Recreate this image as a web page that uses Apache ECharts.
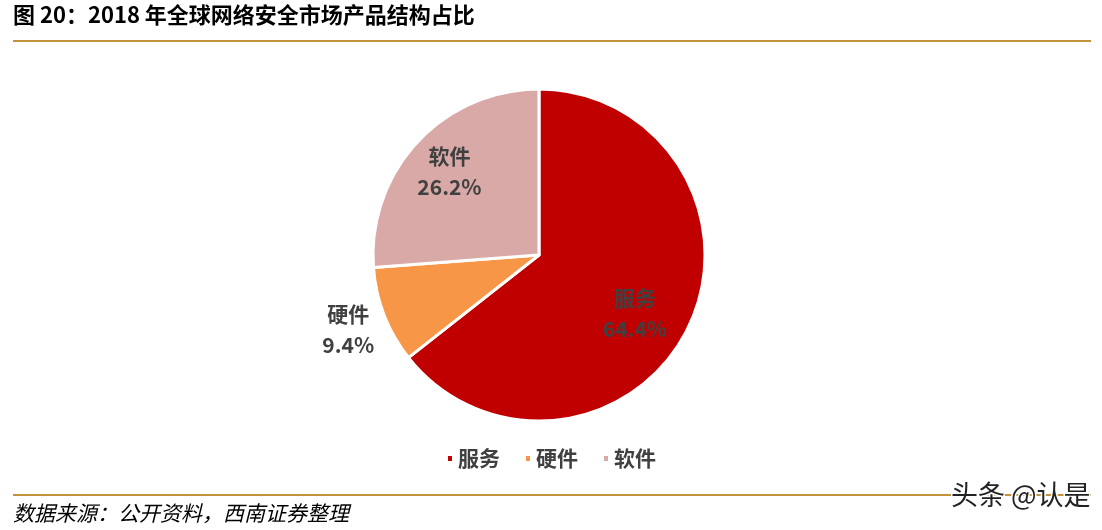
<!DOCTYPE html>
<html>
<head>
<meta charset="utf-8">
<script src="https://cdn.jsdelivr.net/npm/echarts@6/dist/echarts.min.js"></script>
<style>
  html, body { margin: 0; padding: 0; background: #fff; }
  #chart { width: 1102px; height: 530px; }
</style>
</head>
<body>
<div id="chart"></div>
<script>
// data
var categories = ['服务', '硬件', '软件'];
var shares = [64.4, 9.4, 26.2];
var colors = ['#C00000', '#F79646', '#D9A9A8'];
// how far out each label sits, relative to the default inside spot
var labelPush = [1.24, 2.38, 1.42];

var title = '图 20：2018 年全球网络安全市场产品结构占比';
var source = '数据来源：公开资料，西南证券整理';

var CX = 539, CY = 255;
var font = '"Noto Sans CJK SC", "Noto Sans", sans-serif';

var chart = echarts.init(document.getElementById('chart'));

var pieData = categories.map(function (name, i) {
    return { name: name, value: shares[i], itemStyle: { color: colors[i] } };
});

chart.setOption({
    animation: false,
    color: colors,
    legend: {
        data: categories,
        bottom: 56,
        left: 'center',
        icon: 'rect',
        itemWidth: 6,
        itemHeight: 7,
        itemGap: 24,
        textStyle: { fontSize: 21, color: '#404040', fontWeight: 'bold', fontFamily: font }
    },
    graphic: [
        { type: 'text', left: 13, top: 4,
          style: { text: title, fontSize: 22, fontWeight: 'bold', fill: '#000', fontFamily: font } },
        { type: 'rect', left: 13, top: 40, shape: { width: 1078, height: 2 },
          style: { fill: '#C4923F' } },
        { type: 'rect', left: 13, top: 494, shape: { width: 1078, height: 2 },
          style: { fill: '#C4923F' } },
        { type: 'text', left: 13, top: 503,
          style: { text: source, fontSize: 21, fontStyle: 'italic', fill: '#000', fontFamily: font } },
        { type: 'text', right: 10, top: 480,
          style: { text: '头条 @认是', fontSize: 27, fill: '#222', stroke: '#fff', lineWidth: 3,
                   fontFamily: font } }
    ],
    series: [{
        type: 'pie',
        center: [CX, CY],
        radius: 166,
        startAngle: 90,
        clockwise: true,
        data: pieData,
        itemStyle: { borderColor: '#fff', borderWidth: 3 },
        label: {
            position: 'inside',
            formatter: '{b}\n{c}%',
            fontSize: 21,
            lineHeight: 31,
            fontWeight: 'bold',
            color: '#404040',
            fontFamily: font
        },
        labelLine: { show: false },
        labelLayout: function (p) {
            var r = p.labelRect;
            var k = labelPush[p.dataIndex];
            var x0 = r.x + r.width / 2, y0 = r.y + r.height / 2;
            return { x: CX + (x0 - CX) * k, y: CY + (y0 - CY) * k + (p.dataIndex === 0 ? 12 : 0) };
        },
        emphasis: { disabled: true }
    }]
});
</script>
</body>
</html>
